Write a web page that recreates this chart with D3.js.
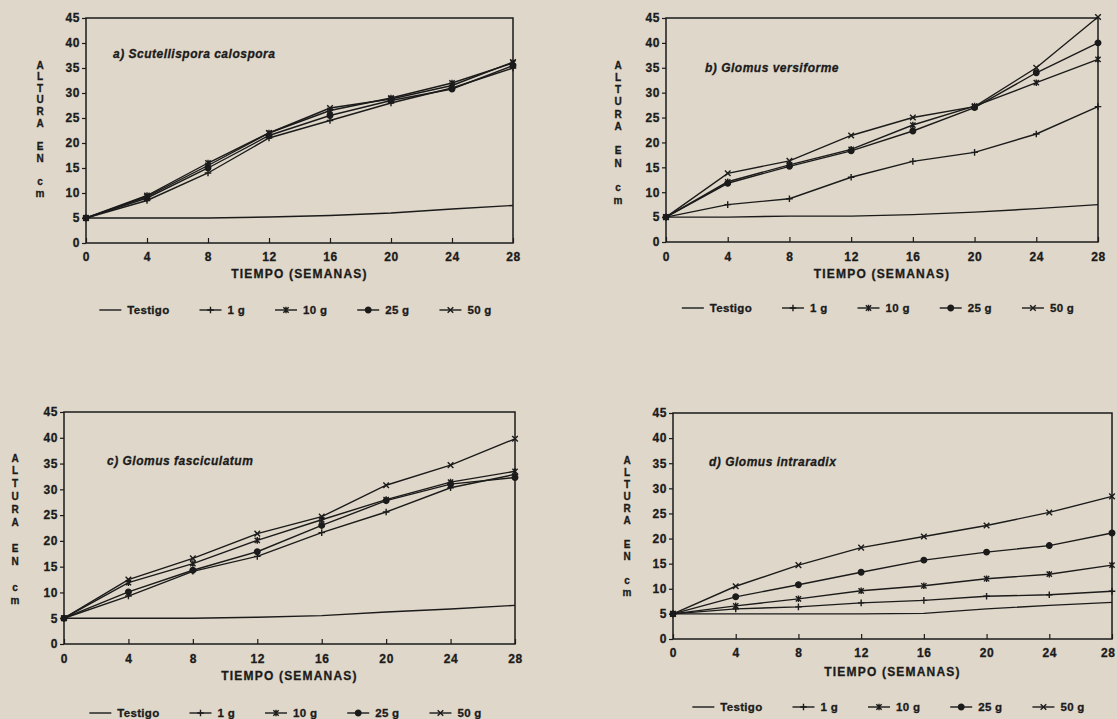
<!DOCTYPE html>
<html lang="es">
<head>
<meta charset="UTF-8">
<script src="https://cdn.jsdelivr.net/npm/d3@7"></script>
<title>Altura en cm por semana</title>
<style>
  body { margin: 0; background: #dfd7c9; }
  svg { display: block; font-family: "Liberation Sans", Arial, sans-serif; font-weight: bold; }
  svg text { stroke: #1b1b1b; stroke-width: 0.3px; }
  .tick text { font-size: 12px; fill: #1b1b1b; letter-spacing: 0.6px; }
  .tick line { stroke: #1b1b1b; stroke-width: 1.2px; }
</style>
</head>
<body>
<div id="fig"></div>
<script>
// weeks and tick values
const semanas = [0, 4, 8, 12, 16, 20, 24, 28];
const yTicks = [0, 5, 10, 15, 20, 25, 30, 35, 40, 45];
const leyenda = ["Testigo", "1 g", "10 g", "25 g", "50 g"];
const titulos = ["a) Scutellispora calospora", "b) Glomus versiforme", "c) Glomus fasciculatum", "d) Glomus intraradix"];

// a) Scutellispora calospora
const aTestigo = [5, 5, 5, 5.2, 5.5, 6, 6.8, 7.5];
const a1g  = [5, 8.5, 14, 21, 24.5, 28, 31, 35];
const a10g = [5, 9.5, 16, 22, 26.5, 29, 32, 36];
const a25g = [5, 9, 15, 21.5, 25.5, 28.5, 30.8, 35.5];
const a50g = [5, 9.3, 15.5, 22, 27, 28.8, 31.5, 36.2];

// b) Glomus versiforme
const bTestigo = [5, 5, 5.2, 5.2, 5.5, 6, 6.7, 7.5];
const b1g  = [5, 7.5, 8.7, 13, 16.2, 18, 21.7, 27.2];
const b10g = [5, 12.1, 15.5, 18.6, 23.5, 27.3, 32, 36.7];
const b25g = [5, 11.8, 15.2, 18.3, 22.3, 27, 34, 40];
const b50g = [5, 13.8, 16.3, 21.4, 25, 27.2, 35, 45.2];

// c) Glomus fasciculatum
const cTestigo = [5, 5, 5, 5.2, 5.5, 6.2, 6.8, 7.5];
const c1g  = [5, 9.3, 14.1, 17, 21.6, 25.6, 30.3, 32.9];
const c10g = [5, 11.9, 15.6, 20.1, 24.1, 28, 31.4, 33.5];
const c25g = [5, 10.1, 14.3, 17.9, 23, 27.8, 31, 32.3];
const c50g = [5, 12.5, 16.6, 21.4, 24.7, 30.8, 34.7, 39.8];

// d) Glomus intraradix
const dTestigo = [5, 5, 5, 5, 5.1, 6, 6.7, 7.3];
const d1g  = [5, 6, 6.4, 7.2, 7.7, 8.5, 8.8, 9.5];
const d10g = [5, 6.6, 8, 9.6, 10.6, 12, 12.9, 14.7];
const d25g = [5, 8.4, 10.8, 13.3, 15.7, 17.3, 18.6, 21.1];
const d50g = [5, 10.5, 14.7, 18.2, 20.4, 22.6, 25.2, 28.4];

const series = [
    [aTestigo, a1g, a10g, a25g, a50g],
    [bTestigo, b1g, b10g, b25g, b50g],
    [cTestigo, c1g, c10g, c25g, c50g],
    [dTestigo, d1g, d10g, d25g, d50g]
];

// where each panel sits on the page
const layout = [
    { left: 86, right: 513, top: 18, bottom: 243, tickY: 257, xLabelY: 274, legendY: 310, titleX: 113, titleY: 54, yTitleX: 40, yTop: 65, yBottom: 193 },
    { left: 666, right: 1098, top: 18, bottom: 242, tickY: 257, xLabelY: 274, legendY: 308, titleX: 705, titleY: 68, yTitleX: 618, yTop: 65, yBottom: 200 },
    { left: 64, right: 515, top: 412, bottom: 644, tickY: 659, xLabelY: 676, legendY: 713, titleX: 107, titleY: 461, yTitleX: 15, yTop: 458, yBottom: 600 },
    { left: 673, right: 1112, top: 413, bottom: 639, tickY: 653, xLabelY: 672, legendY: 707, titleX: 709, titleY: 462, yTitleX: 627, yTop: 460, yBottom: 592 }
];

const ink = "#1b1b1b";
const pageW = 1117;

// marker shapes: none, plus, asterisk, dot, times
const markers = [
    null,
    r => `M${-r},0H${r}M0,${-r}V${r}`,
    r => { const a = r * 0.8; return `M0,${-r}V${r}M${-a},${-a}L${a},${a}M${-a},${a}L${a},${-a}`; },
    r => d3.symbol().type(d3.symbolCircle).size(r * r * 2.2)(),
    r => { const a = r * 0.85; return `M${-a},${-a}L${a},${a}M${-a},${a}L${a},${-a}`; }
];

const svg = d3.select("#fig").append("svg")
    .attr("width", pageW)
    .attr("height", 719);

const drawMarker = (sel, k, cx, cy) => {
    if (!markers[k]) return;
    sel.append("path")
        .attr("transform", `translate(${cx},${cy})`)
        .attr("d", markers[k](3.3))
        .attr("fill", k === 3 ? ink : "none")
        .attr("stroke", ink)
        .attr("stroke-width", 1.4);
};

layout.forEach((L, i) => {
    const g = svg.append("g");
    const x = d3.scaleLinear().domain([0, 28]).range([L.left, L.right]);
    const y = d3.scaleLinear().domain([0, 45]).range([L.bottom, L.top]);

    // y axis, ticks outward
    const yAx = g.append("g")
        .attr("transform", `translate(${L.left},0)`)
        .call(d3.axisLeft(y).tickValues(yTicks).tickSize(4).tickPadding(2));
    yAx.select(".domain").remove();

    // x axis, ticks inward
    const xAx = g.append("g")
        .attr("transform", `translate(0,${L.bottom})`)
        .call(d3.axisBottom(x).tickValues(semanas).tickSize(-5));
    xAx.select(".domain").remove();
    xAx.selectAll("text").attr("y", L.tickY - L.bottom).attr("dy", "0.35em");
    // keep the last label inside the page
    xAx.selectAll("text").each(function (d) {
        const w = this.getComputedTextLength();
        const over = x(d) + w / 2 - (pageW - 2);
        if (over > 0) d3.select(this).attr("x", -over);
    });

    // frame
    g.append("rect")
        .attr("x", L.left).attr("y", L.top)
        .attr("width", L.right - L.left).attr("height", L.bottom - L.top)
        .attr("fill", "none").attr("stroke", ink).attr("stroke-width", 1.5);

    // x title
    g.append("text")
        .attr("x", (L.left + L.right) / 2)
        .attr("y", L.xLabelY).attr("dy", "0.35em")
        .attr("text-anchor", "middle")
        .attr("font-size", 12).attr("letter-spacing", 1.2)
        .attr("fill", ink)
        .text("TIEMPO (SEMANAS)");

    // stacked y title
    const letters = ["A", "L", "T", "U", "R", "A", "", "E", "N", "", "c", "m"];
    const step = (L.yBottom - L.yTop) / (letters.length - 1);
    letters.forEach((c, j) => {
        if (!c) return;
        g.append("text")
            .attr("x", L.yTitleX).attr("y", L.yTop + j * step).attr("dy", "0.35em")
            .attr("text-anchor", "middle")
            .attr("font-size", 10).attr("fill", ink)
            .text(c);
    });

    // panel title
    g.append("text")
        .attr("x", L.titleX).attr("y", L.titleY).attr("dy", "0.35em")
        .attr("font-size", 12).attr("font-style", "italic").attr("letter-spacing", 0.5)
        .attr("fill", ink)
        .text(titulos[i]);

    // lines and markers
    const line = d3.line().x((d, j) => x(semanas[j])).y(d => y(d));
    series[i].forEach((vals, k) => {
        g.append("path")
            .attr("d", line(vals))
            .attr("fill", "none")
            .attr("stroke", ink)
            .attr("stroke-width", 1.4);
        vals.forEach((v, j) => drawMarker(g, k, x(semanas[j]), y(v)));
    });

    // legend
    const lg = g.append("g");
    let cur = 0;
    const segLen = 22, txtGap = 6, itemGap = 30;
    leyenda.forEach((name, k) => {
        const it = lg.append("g").attr("transform", `translate(${cur},0)`);
        it.append("line")
            .attr("x1", 0).attr("x2", segLen).attr("y1", 0).attr("y2", 0)
            .attr("stroke", ink).attr("stroke-width", 1.4);
        drawMarker(it, k, segLen / 2, 0);
        const t = it.append("text")
            .attr("x", segLen + txtGap).attr("dy", "0.35em")
            .attr("font-size", 11.5).attr("letter-spacing", 0.3)
            .attr("fill", ink)
            .text(name);
        cur += segLen + txtGap + t.node().getComputedTextLength() + (k < leyenda.length - 1 ? itemGap : 0);
    });
    const cx = (L.left + L.right) / 2 - 4;
    lg.attr("transform", `translate(${cx - cur / 2},${L.legendY})`);
});
</script>
</body>
</html>
